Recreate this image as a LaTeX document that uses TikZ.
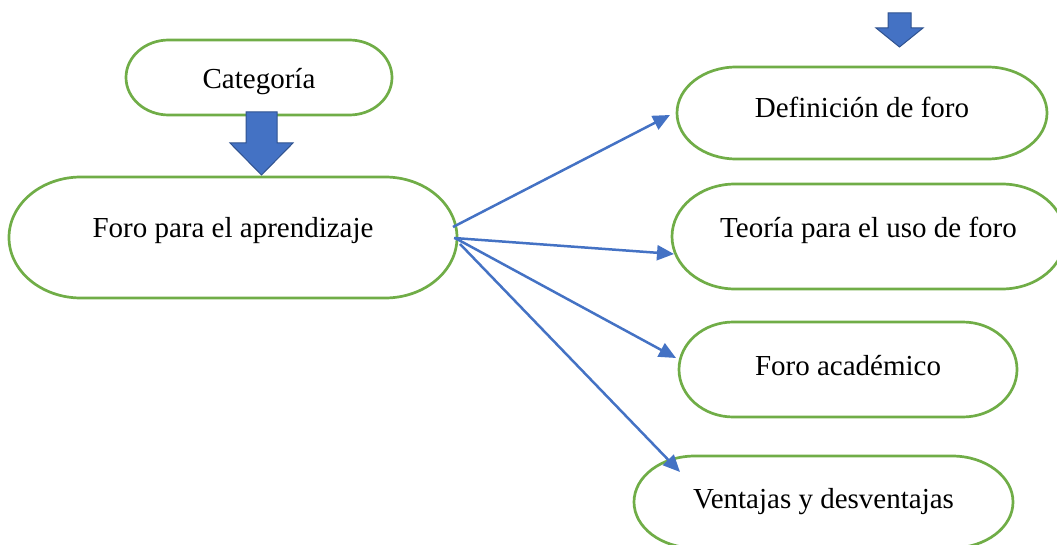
\documentclass[tikz,border=0pt]{standalone}
\usepackage{fontspec}
\setmainfont{Liberation Serif}
\usetikzlibrary{arrows.meta}
\definecolor{boxgreen}{HTML}{70AD47}
\definecolor{arrblue}{HTML}{4472C4}
\definecolor{arrdark}{HTML}{2F528F}
\tikzset{
  pill/.style 2 args={rectangle, inner sep=0pt, outer sep=0pt, text depth=10pt,
    font=\fontsize{29}{34}\selectfont, minimum width=#1, minimum height=#2},
  bloff/.style={text height=10pt+2*#1},
  termline/.style={draw=boxgreen, line width=2.7pt},
  conn/.style={draw=arrblue, line width=2.5pt, -{Triangle[length=17pt,width=15pt]}},
  blockarrow/.style={fill=arrblue, draw=arrdark, line width=1pt, line join=miter}
}
% outline of a flowchart terminator around node #1: x radius #2, y radius #3
\newcommand\termshape[3]{%
  \draw[termline] ([xshift=#2]#1.north west) -- ([xshift=-#2]#1.north east)
    arc[start angle=90, end angle=-90, x radius=#2, y radius=#3]
    -- ([xshift=#2]#1.south west)
    arc[start angle=270, end angle=90, x radius=#2, y radius=#3] -- cycle;}
\begin{document}
\begin{tikzpicture}[x=1pt,y=-1pt]
\useasboundingbox (0,0) rectangle (1057,545);
% nodes
\node[pill={266pt}{75pt}, bloff=11.5pt] (cat) at (259,77.5) {Categoría};
\node[pill={448pt}{121pt}, bloff=0pt] (foro) at (233,237.5) {Foro para el aprendizaje};
\node[pill={370pt}{92pt}, bloff=5pt] (def) at (862,113) {Definición de foro};
\node[pill={393pt}{105pt}, bloff=1.5pt] (teo) at (868.5,236.5) {Teoría para el uso de foro};
\node[pill={338pt}{95pt}, bloff=5.5pt] (aca) at (848,369.5) {Foro académico};
\node[pill={379pt}{92pt}, bloff=6pt] (ven) at (823.5,502) {Ventajas y desventajas};
\termshape{cat}{42.7pt}{37.5pt}
\termshape{foro}{72pt}{60.5pt}
\termshape{def}{59.4pt}{46pt}
\termshape{teo}{63.1pt}{52.5pt}
\termshape{aca}{54.3pt}{47.5pt}
\termshape{ven}{60.9pt}{46pt}
% block arrows
\draw[blockarrow] (888,13) -- (911,13) -- (911,28) -- (923,28) -- (899.5,47) -- (876,28) -- (888,28) -- cycle;
\draw[blockarrow] (246,112) -- (277,112) -- (277,143) -- (293,143) -- (261.5,175) -- (230,143) -- (246,143) -- cycle;
% connectors
\draw[conn] ([xshift=-4pt,yshift=10.5pt]foro.east) -- ([xshift=-7pt,yshift=-2pt]def.west);
\draw[conn] ([xshift=-3pt,yshift=-0.5pt]foro.east) -- ([xshift=2pt,yshift=-17.5pt]teo.west);
\draw[conn] ([xshift=-2pt,yshift=-0.5pt]foro.east) -- ([xshift=-3pt,yshift=11.5pt]aca.west);
\draw[conn] ([xshift=3pt,yshift=-6.5pt]foro.east) -- ([xshift=46pt,yshift=30pt]ven.west);
\end{tikzpicture}
\end{document}
